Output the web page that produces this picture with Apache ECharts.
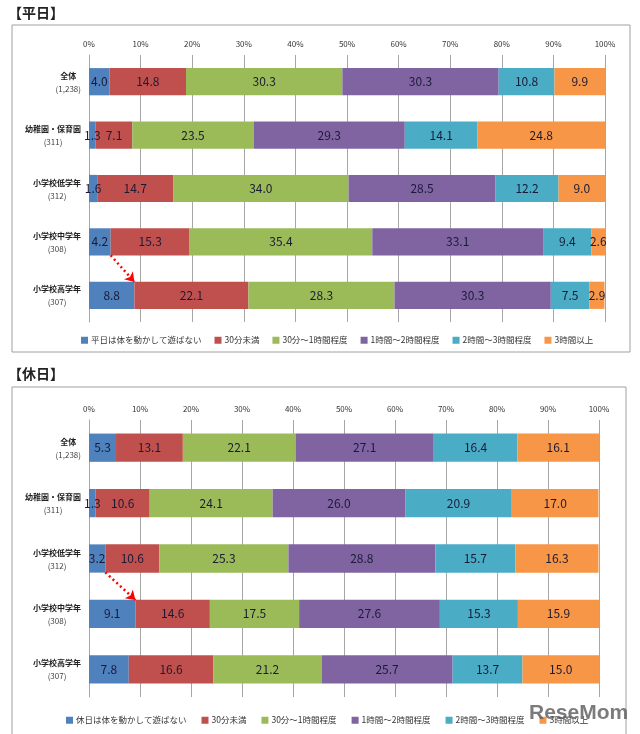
<!DOCTYPE html>
<html>
<head>
<meta charset="utf-8">
<script src="https://cdn.jsdelivr.net/npm/echarts@6/dist/echarts.min.js"></script>
<style>html,body{margin:0;padding:0;background:#fff}#c{width:640px;height:734px}</style>
</head>
<body>
<div id="c"></div>
<script>
var categories = ['全体|(1,238)', '幼稚園・保育園|(311)', '小学校低学年|(312)', '小学校中学年|(308)', '小学校高学年|(307)'];
var xTicks = [0, 10, 20, 30, 40, 50, 60, 70, 80, 90, 100];
var weekdayNames = ['平日は体を動かして遊ばない', '30分未満', '30分～1時間程度', '1時間～2時間程度', '2時間～3時間程度', '3時間以上'];
var holidayNames = ['休日は体を動かして遊ばない', '30分未満', '30分～1時間程度', '1時間～2時間程度', '2時間～3時間程度', '3時間以上'];
// rows = categories, columns = series
var weekdayNone = [4.0, 1.3, 1.6, 4.2, 8.8];
var weekdayLt30 = [14.8, 7.1, 14.7, 15.3, 22.1];
var weekday30to1 = [30.3, 23.5, 34.0, 35.4, 28.3];
var weekday1to2 = [30.3, 29.3, 28.5, 33.1, 30.3];
var weekday2to3 = [10.8, 14.1, 12.2, 9.4, 7.5];
var weekday3plus = [9.9, 24.8, 9.0, 2.6, 2.9];
var holidayNone = [5.3, 1.3, 3.2, 9.1, 7.8];
var holidayLt30 = [13.1, 10.6, 10.6, 14.6, 16.6];
var holiday30to1 = [22.1, 24.1, 25.3, 17.5, 21.2];
var holiday1to2 = [27.1, 26.0, 28.8, 27.6, 25.7];
var holiday2to3 = [16.4, 20.9, 15.7, 15.3, 13.7];
var holiday3plus = [16.1, 17.0, 16.3, 15.9, 15.0];
// arrow annotations: [value %, row position]
var weekdayArrow = [[4.2, 3.25], [8.8, 3.75]];
var holidayArrow = [[3.2, 2.25], [9.1, 2.75]];

var colors = ['#4F81BD', '#C0504D', '#9BBB59', '#8064A2', '#4BACC6', '#F79646'];
var FONT = '"Noto Sans CJK JP", sans-serif';
var weekdayData = [weekdayNone, weekdayLt30, weekday30to1, weekday1to2, weekday2to3, weekday3plus];
var holidayData = [holidayNone, holidayLt30, holiday30to1, holiday1to2, holiday2to3, holiday3plus];

function xAxis(gi) {
  return {
    type: 'value', gridIndex: gi, position: 'top', min: 0, max: 100, interval: 10,
    axisLine: {show: false}, axisTick: {show: false},
    axisLabel: {formatter: '{value}%', fontSize: 8, color: '#333', margin: 7, fontFamily: FONT},
    splitLine: {show: true, lineStyle: {color: '#A6A6A6', width: 1}}
  };
}
function yAxis(gi) {
  return {
    type: 'category', gridIndex: gi, inverse: true, data: categories,
    axisLine: {show: true, lineStyle: {color: '#A6A6A6'}}, axisTick: {show: false},
    axisLabel: {
      align: 'right', margin: 8, fontFamily: FONT,
      formatter: function (v) { var p = v.split('|'); return '{a|' + p[0] + '}\n{b|' + p[1] + '}'; },
      rich: {a: {fontSize: 8, color: '#222', fontWeight: 'bold', lineHeight: 14, align: 'center', fontFamily: FONT},
             b: {fontSize: 8, color: '#444', lineHeight: 12, align: 'center', fontFamily: FONT}}
    }
  };
}
function hiddenY(gi) {
  return {type: 'value', gridIndex: gi, min: -0.5, max: 4.5, inverse: true, show: false, splitLine: {show: false}};
}
var series = [];
function addBars(names, data, gi, yi) {
  for (var i = 0; i < names.length; i++) {
    series.push({
      type: 'bar', name: names[i], stack: 's' + gi, xAxisIndex: gi, yAxisIndex: yi,
      data: data[i], barWidth: '51%', itemStyle: {color: colors[i]},
      label: {show: true, position: 'inside', fontSize: 12, color: '#1a1a36', fontFamily: FONT,
              formatter: function (p) { return p.value.toFixed(1); }}
    });
  }
}
addBars(weekdayNames, weekdayData, 0, 0);
addBars(holidayNames, holidayData, 1, 1);
function addArrow(arr, gi, yi) {
  series.push({
    type: 'lines', coordinateSystem: 'cartesian2d', xAxisIndex: gi, yAxisIndex: yi, z: 10,
    symbol: ['none', 'arrow'], symbolSize: 9,
    lineStyle: {color: '#FF0000', width: 2.5, type: [2, 3], opacity: 1},
    data: [{coords: arr}]
  });
}
addArrow(weekdayArrow, 0, 2);
addArrow(holidayArrow, 1, 3);

var chart = echarts.init(document.getElementById('c'));
chart.setOption({
  animation: false,
  textStyle: {fontFamily: FONT},
  grid: [
    {left: 89, right: 35, top: 55, height: 267},
    {left: 89, right: 41, top: 420, height: 277}
  ],
  xAxis: [xAxis(0), xAxis(1)],
  yAxis: [yAxis(0), yAxis(1), hiddenY(0), hiddenY(1)],
  legend: [
    {data: weekdayNames, left: 76, top: 331, itemWidth: 7, itemHeight: 7, itemGap: 13, icon: 'rect',
     textStyle: {fontSize: 8.5, color: '#333', fontFamily: FONT, padding: [0, 0, 0, -2]}},
    {data: holidayNames, left: 61, top: 711, itemWidth: 7, itemHeight: 7, itemGap: 15, icon: 'rect',
     textStyle: {fontSize: 8.5, color: '#333', fontFamily: FONT, padding: [0, 0, 0, -2]}}
  ],
  graphic: [
    {type: 'rect', shape: {x: 12, y: 25, width: 618, height: 327}, style: {fill: 'none', stroke: '#A0A0A0', lineWidth: 1}, z: -1},
    {type: 'rect', shape: {x: 12, y: 387, width: 614, height: 360}, style: {fill: 'none', stroke: '#A0A0A0', lineWidth: 1}, z: -1},
    {type: 'text', left: 8, top: 6, style: {text: '【平日】', font: 'bold 14px ' + FONT, fill: '#222'}},
    {type: 'text', left: 8, top: 367, style: {text: '【休日】', font: 'bold 14px ' + FONT, fill: '#222'}},
    {type: 'text', left: 529, top: 703, z: 100, style: {text: 'ReseMom', font: 'bold 21px "Liberation Sans", sans-serif', fill: 'rgba(90,90,90,0.8)'}}
  ],
  series: series
});
</script>
</body>
</html>
